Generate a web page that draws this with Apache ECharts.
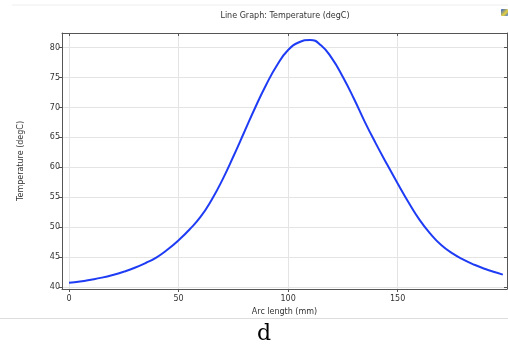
<!DOCTYPE html>
<html>
<head>
<meta charset="utf-8">
<script src="https://cdn.jsdelivr.net/npm/echarts@6/dist/echarts.min.js"></script>
<style>
  html, body { margin: 0; padding: 0; background: #fff; }
</style>
</head>
<body>
<div id="chart" style="width:508px;height:349px;"></div>
<script>
// arc length (mm) and temperature (degC)
const arcLength = [0, 5, 10, 15, 20, 25, 30, 35, 40, 45, 50, 55, 60, 65, 70, 75, 80, 85, 90, 95, 100, 105, 110, 115, 120, 125, 130, 135, 140, 145, 150, 155, 160, 165, 170, 175, 180, 185, 190, 195, 198];
const temperature = [40.7, 40.9, 41.2, 41.55, 42.0, 42.55, 43.2, 44.0, 44.95, 46.25, 47.8, 49.6, 51.7, 54.5, 57.9, 61.8, 65.9, 70.0, 73.8, 77.1, 79.6, 80.9, 81.3, 80.4, 78.2, 75.1, 71.5, 67.6, 64.0, 60.6, 57.3, 54.1, 51.2, 48.85, 46.95, 45.6, 44.55, 43.7, 43.0, 42.4, 42.05];

const xRange = [-3.2, 199.9];
const yRange = [39.65, 82.45];

const chart = echarts.init(document.getElementById('chart'));
const font = 'DejaVu Sans';
const frameColor = '#555';

const points = arcLength.map((x, i) => [x, temperature[i]]);

const option = {
  animation: false,
  textStyle: { fontFamily: font },
  grid: { left: 62, top: 33, right: 1, bottom: 60, containLabel: false },
  graphic: [
    { type: 'line', shape: { x1: 12, y1: 5, x2: 508, y2: 5 }, style: { stroke: '#eeeeee', lineWidth: 1 } },
    { type: 'line', shape: { x1: 0, y1: 318.5, x2: 508, y2: 318.5 }, style: { stroke: '#dddddd', lineWidth: 1 } },
    { type: 'text', x: 285, y: 16, style: { text: 'Line Graph: Temperature (degC)', font: '8px DejaVu Sans', fill: '#333', align: 'center', verticalAlign: 'middle' } },
    { type: 'text', x: 264, y: 334, style: { text: 'd', font: '22px "DejaVu Serif"', fill: '#000', align: 'center', verticalAlign: 'middle' } },
    { type: 'rect', shape: { x: 501, y: 9, width: 7, height: 7, r: 1 },
      style: { fill: new echarts.graphic.LinearGradient(0, 0, 1, 1, [{ offset: 0, color: '#2a5bd7' }, { offset: 0.6, color: '#e8d23a' }, { offset: 1, color: '#3a6fe0' }]) } }
  ],
  xAxis: [
    {
      type: 'value', position: 'bottom', min: xRange[0], max: xRange[1], splitNumber: 4,
      name: 'Arc length (mm)', nameLocation: 'middle', nameGap: 17,
      nameTextStyle: { fontSize: 8, color: '#333', fontFamily: font },
      axisLine: { show: true, onZero: false, lineStyle: { color: frameColor, width: 1 } },
      axisTick: { show: true, inside: false, length: 3, lineStyle: { color: frameColor } },
      axisLabel: { fontSize: 8, color: '#333', margin: 6, showMinLabel: false, showMaxLabel: false, fontFamily: font },
      splitLine: { show: true, lineStyle: { color: '#e4e4e4', width: 1 } }
    },
    {
      type: 'value', position: 'top', min: xRange[0], max: xRange[1], splitNumber: 4,
      axisLine: { show: true, onZero: false, lineStyle: { color: frameColor, width: 1 } },
      axisTick: { show: true, inside: true, length: 3, lineStyle: { color: frameColor } },
      axisLabel: { show: false },
      splitLine: { show: false }
    }
  ],
  yAxis: [
    {
      type: 'value', position: 'left', min: yRange[0], max: yRange[1], splitNumber: 8,
      name: 'Temperature (degC)', nameLocation: 'middle', nameGap: 37,
      nameTextStyle: { fontSize: 8, color: '#333', fontFamily: font },
      axisLine: { show: true, onZero: false, lineStyle: { color: frameColor, width: 1 } },
      axisTick: { show: true, inside: false, length: 3, lineStyle: { color: frameColor } },
      axisLabel: { fontSize: 8, color: '#333', margin: 2, showMinLabel: false, showMaxLabel: false, fontFamily: font },
      splitLine: { show: true, lineStyle: { color: '#e4e4e4', width: 1 } }
    },
    {
      type: 'value', position: 'right', min: yRange[0], max: yRange[1], splitNumber: 8,
      axisLine: { show: true, onZero: false, lineStyle: { color: frameColor, width: 1 } },
      axisTick: { show: true, inside: true, length: 3, lineStyle: { color: frameColor } },
      axisLabel: { show: false },
      splitLine: { show: false }
    }
  ],
  series: [
    {
      type: 'line',
      xAxisIndex: 0,
      yAxisIndex: 0,
      data: points,
      smooth: true,
      symbol: 'none',
      lineStyle: { color: '#1f3cf5', width: 2 }
    }
  ]
};

chart.setOption(option);
</script>
</body>
</html>
